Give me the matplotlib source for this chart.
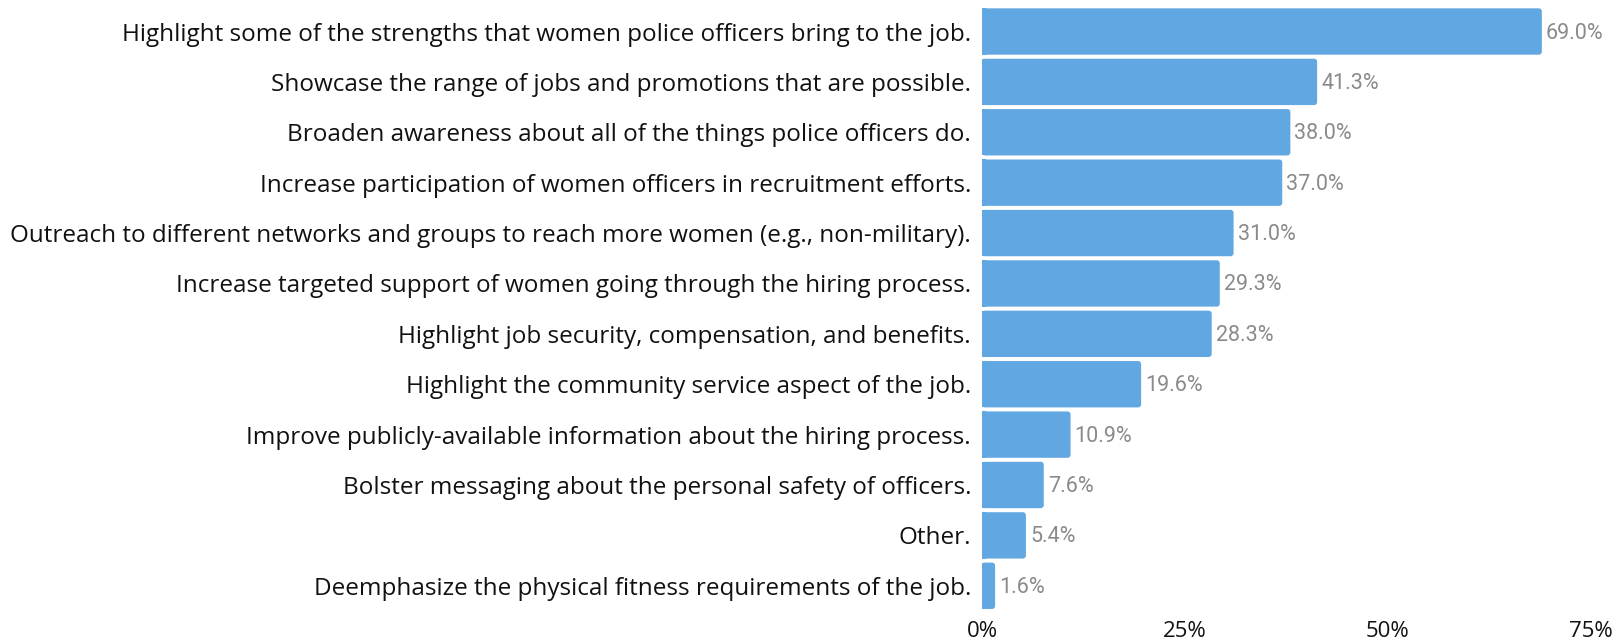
import matplotlib
matplotlib.use("Agg")
import matplotlib.pyplot as plt
from matplotlib.patches import FancyBboxPatch

categories = [
    "Highlight some of the strengths that women police officers bring to the job.",
    "Showcase the range of jobs and promotions that are possible.",
    "Broaden awareness about all of the things police officers do.",
    "Increase participation of women officers in recruitment efforts.",
    "Outreach to different networks and groups to reach more women (e.g., non-military).",
    "Increase targeted support of women going through the hiring process.",
    "Highlight job security, compensation, and benefits.",
    "Highlight the community service aspect of the job.",
    "Improve publicly-available information about the hiring process.",
    "Bolster messaging about the personal safety of officers.",
    "Other.",
    "Deemphasize the physical fitness requirements of the job.",
]
values = [69.0, 41.3, 38.0, 37.0, 31.0, 29.3, 28.3, 19.6, 10.9, 7.6, 5.4, 1.6]
xticks = [0, 25, 50, 75]
xtick_labels = ["0%", "25%", "50%", "75%"]

bar_color = "#61A7E2"
label_color = "#8A8A8A"

fig = plt.figure(figsize=(16.18, 6.41), dpi=100)
ax = fig.add_axes([0.607, 0.050, 0.376, 0.937])

h = 0.92
ypos = list(range(len(categories)))
# aspect correction so corner rounding looks circular in pixels
px_per_x = (0.376 * 1618) / 75.0
px_per_y = (0.937 * 641) / (11 + h)
r_px = 3.0
for y, v in zip(ypos, values):
    ax.add_patch(FancyBboxPatch(
        (0, y - h / 2), v, h,
        boxstyle=f"round,pad=0,rounding_size={r_px / px_per_x}",
        mutation_aspect=px_per_x / px_per_y,
        facecolor=bar_color, edgecolor="none"))
    ax.add_patch(plt.Rectangle((0, y - h / 2), min(v, 0.5), h,
                               facecolor=bar_color, edgecolor="none"))
    ax.text(v + 0.5, y + 0.03, f"{v:.1f}%", va="center", ha="left",
            fontsize=15.5, color=label_color, family="Roboto")

ax.set_xlim(0, 75)
ax.set_ylim(11 + h / 2, -h / 2)
ax.set_yticks(ypos)
ax.set_yticklabels(categories, fontsize=17.5, family="Open Sans", color="#111111")
ax.set_xticks(xticks)
ax.set_xticklabels(xtick_labels, fontsize=16, family="Open Sans", color="#111111")
ax.tick_params(axis="both", length=0)
ax.tick_params(axis="y", pad=8)
ax.tick_params(axis="x", pad=9)
for s in ax.spines.values():
    s.set_visible(False)

fig.savefig("out.png", dpi=100, facecolor="white")
